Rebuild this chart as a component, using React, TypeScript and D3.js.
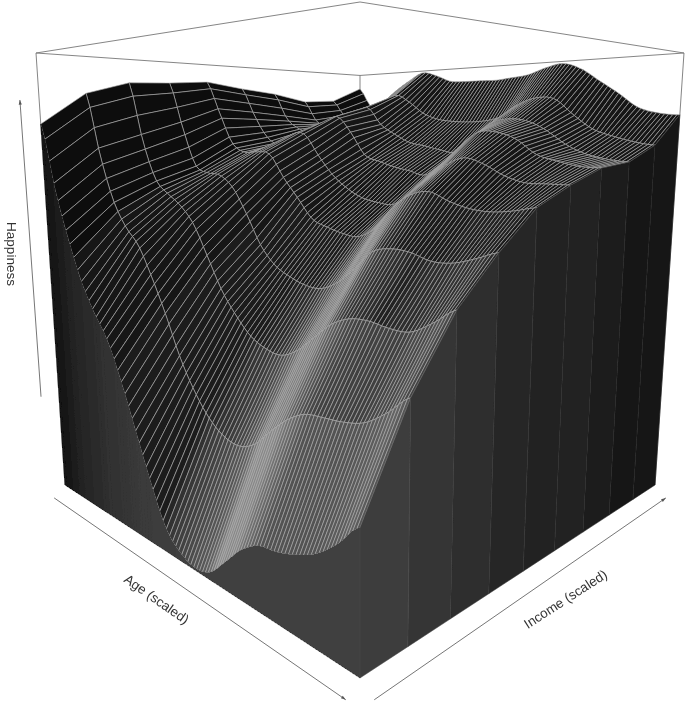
import React from "react";
import * as d3 from "d3";

const ageKnots = [0, .05, .1, .15, .2, .25, .3, .35, .4, .45, .5, .55, .6, .65, .7, .75, .8, .85, .9, .95, 1];
const income0 = [.848, .704, .597, .51, .45, .40, .32, .225, .13, .05, .016, .004, .015, .055, .098, .125, .133, .147, .168, .203, .249];
const income1 = [.918, .78, .68, .623, .587, .523, .448, .363, .30, .254, .228, .221, .238, .277, .313, .336, .342, .347, .359, .388, .425];
const income2 = [.946, .811, .722, .691, .667, .629, .562, .493, .444, .407, .389, .384, .403, .438, .473, .492, .496, .491, .493, .517, .547];
const income3 = [.95, .843, .753, .735, .731, .704, .646, .579, .539, .52, .508, .507, .526, .56, .60, .611, .609, .598, .60, .613, .629];
const income4 = [.957, .88, .805, .782, .783, .778, .725, .68, .635, .62, .61, .607, .629, .675, .705, .714, .698, .687, .684, .689, .698];
const income5 = [.944, .875, .82, .80, .825, .825, .775, .73, .70, .68, .672, .67, .695, .73, .762, .778, .766, .745, .733, .733, .733];
const income6 = [.934, .868, .84, .83, .85, .87, .83, .775, .76, .748, .74, .732, .76, .80, .83, .83, .815, .785, .772, .763, .761];
const income7 = [.916, .86, .85, .85, .875, .895, .85, .825, .805, .797, .788, .783, .815, .85, .86, .855, .835, .805, .785, .775, .77];
const income8 = [.921, .875, .865, .875, .90, .93, .91, .88, .864, .858, .856, .858, .868, .896, .91, .906, .87, .838, .822, .81, .803];
const income9 = [.96, .905, .92, .95, .975, .995, .985, .968, .965, .965, .964, .968, .973, .987, .995, .98, .95, .92, .887, .873, .868];
const incomeLines = [income0, income1, income2, income3, income4, income5, income6, income7, income8, income9];

const axisLabels = ["Happiness", "Age (scaled)", "Income (scaled)"];

// Camera fitted to the box corners.
const cam = { cx: 360, a: 295, y0: 485, b: -47.15, g: -436.74, d: 0.3542, e: 0.0895 };
function project(age: number, inc: number, z: number): [number, number] {
  const h = -1 + age + inc, c = age - inc, w = 1 - cam.d * c - cam.e * z;
  return [cam.cx + cam.a * h / w, (cam.y0 + cam.b * c + cam.g * z) / w];
}

// Smooth curve through the read heights (Catmull-Rom, for drawing the fine mesh).
function heightAt(line: number[], age: number): number {
  const n = ageKnots.length - 1, t = Math.min(age * n, n - 1e-9), i = Math.floor(t), u = t - i;
  const p0 = line[Math.max(i - 1, 0)], p1 = line[i], p2 = line[i + 1], p3 = line[Math.min(i + 2, n)];
  return 0.5 * (2 * p1 + (p2 - p0) * u + (2 * p0 - 5 * p1 + 4 * p2 - p3) * u * u + (3 * p1 - p0 - 3 * p2 + p3) * u * u * u);
}

// The age rows of the mesh are wider at the old end and tighter towards the front.
const rowStep = d3.scaleLinear().domain([0, .15, .35, .6, 1]).range([.0148, .0148, .0118, .0095, .0095]);
const rowAges: number[] = [0];
while (rowAges[rowAges.length - 1] < 1 - .005) rowAges.push(rowAges[rowAges.length - 1] + rowStep(rowAges[rowAges.length - 1]));
rowAges[rowAges.length - 1] = 1;
const rowCount = rowAges.length - 1;

const incScale = d3.scaleLinear().domain([0, incomeLines.length - 1]).range([0, 1]);
const zGrid = rowAges.map((g) => incomeLines.map((l) => heightAt(l, g)));

const sideWeight = d3.scaleLinear().domain([.05, .17, .28, .39, .5, .6, 1]).range([.5, .45, .37, .3, .2, .12, .06]).clamp(true);
const frontFade = d3.scaleLinear().domain([.75, .9]).range([1, .35]).clamp(true);
const lit = d3.scaleLinear().domain([.15, .9]).range([0, 139]).clamp(true);
const rightSkirt = d3.scaleLinear().domain([0, .11, .22, .33, .44, .55, .66, .77, .89, 1]).range([63, 62, 47, 43, 38, 35, 31, 27, 24, 19]).clamp(true);
const leftSkirt = d3.scaleLinear().domain([0, .05, .12, .2, .35, .5, 1]).range([18, 28, 38, 46, 58, 63, 65]).clamp(true);
const grey = (v: number) => { const k = Math.round(Math.min(255, v)); return `rgb(${k},${k},${k})`; };

function poly(pts: [number, number][]) {
  const p = d3.path();
  pts.forEach((q, i) => (i ? p.lineTo(q[0], q[1]) : p.moveTo(q[0], q[1])));
  p.closePath();
  return p.toString();
}
function segment(a: [number, number, number], b: [number, number, number]) {
  const p = project(a[0], a[1], a[2]), q = project(b[0], b[1], b[2]);
  return { x1: p[0], y1: p[1], x2: q[0], y2: q[1] };
}
function arrow(a: [number, number, number], b: [number, number, number], key: string) {
  const p = project(a[0], a[1], a[2]), q = project(b[0], b[1], b[2]);
  const t = Math.atan2(q[1] - p[1], q[0] - p[0]), L = 5, W = 0.32;
  const l: [number, number] = [q[0] - L * Math.cos(t - W), q[1] - L * Math.sin(t - W)];
  const r: [number, number] = [q[0] - L * Math.cos(t + W), q[1] - L * Math.sin(t + W)];
  return (
    <g key={key} stroke="#666" strokeWidth={0.9} fill="none">
      <line x1={p[0]} y1={p[1]} x2={q[0]} y2={q[1]} />
      <path d={poly([q, l, r])} fill="#555" stroke="none" />
    </g>
  );
}

export default function App() {
  const cells: React.ReactNode[] = [];
  const di = incScale(1);
  for (let j = 0; j < rowCount; j++) {
    for (let i = incomeLines.length - 2; i >= 0; i--) {
      const a = rowAges[j], b = rowAges[j + 1], s0 = incScale(i), s1 = incScale(i + 1);
      const z00 = zGrid[j][i], z01 = zGrid[j][i + 1], z10 = zGrid[j + 1][i], z11 = zGrid[j + 1][i + 1];
      const gz = (z10 + z11 - z00 - z01) / 2 / (b - a), gs = (z01 + z11 - z00 - z10) / 2 / di;
      const sm = (s0 + s1) / 2, am = (a + b) / 2;
      const gzLit = gz > 0 ? gz * Math.min(1, gz / .9) * frontFade(am) : .4 * gz;
      const v = (gzLit + sideWeight(sm) * gs) / Math.sqrt(1 + gz * gz + gs * gs);
      const base = 12 + 16 * Math.min(1, am * 3) * (1 - .4 * sm);
      cells.push(
        <path key={`c${j}-${i}`}
          d={poly([project(a, s0, z00), project(a, s1, z01), project(b, s1, z11), project(b, s0, z10)])}
          fill={grey(base + lit(v))} stroke="#aaaaaa" strokeWidth={0.62} strokeLinejoin="round" />
      );
    }
  }
  const left: React.ReactNode[] = [];
  for (let j = 0; j < rowCount; j++) {
    const a = rowAges[j], b = rowAges[j + 1], col = grey(leftSkirt((a + b) / 2));
    left.push(<path key={`l${j}`} d={poly([project(a, 0, zGrid[j][0]), project(b, 0, zGrid[j + 1][0]), project(b, 0, 0), project(a, 0, 0)])} fill={col} stroke={col} strokeWidth={0.6} strokeLinejoin="round" shapeRendering="crispEdges" />);
  }
  const right: React.ReactNode[] = [];
  for (let i = 0; i < incomeLines.length - 1; i++) {
    const s0 = incScale(i), s1 = incScale(i + 1), col = grey(rightSkirt((s0 + s1) / 2));
    right.push(<path key={`r${i}`} d={poly([project(1, s0, zGrid[rowCount][i]), project(1, s1, zGrid[rowCount][i + 1]), project(1, s1, 0), project(1, s0, 0)])} fill={col} stroke={grey(rightSkirt((s0 + s1) / 2) + 10)} strokeWidth={0.5} />);
  }
  const boxEdges: [[number, number, number], [number, number, number]][] = [
    [[0, 0, 1], [1, 0, 1]], [[1, 0, 1], [1, 1, 1]], [[1, 1, 1], [0, 1, 1]], [[0, 1, 1], [0, 0, 1]],
    [[0, 0, 1], [0, 0, 0]], [[1, 1, 1], [1, 1, 0]], [[0, 1, 1], [0, 1, 0]],
  ];
  const font = "'Liberation Sans', Arial, sans-serif";
  return (
    <svg width={685} height={706} viewBox="0 0 685 706" style={{ position: "absolute", left: 0, top: 0, background: "#fff" }}>
      <defs>
        <filter id="soft" x="0" y="0" width="685" height="706" filterUnits="userSpaceOnUse">
          <feGaussianBlur stdDeviation="0.35" />
        </filter>
      </defs>
      <g filter="url(#soft)">
        <rect width={685} height={706} fill="#fff" />
        {boxEdges.map((e, i) => <line key={i} {...segment(e[0], e[1])} stroke="#777" strokeWidth={0.9} />)}
        {cells}
        {left}
        {right}
        {arrow([.05, -.05, 0], [1.02, -.05, 0], "age")}
        {arrow([1.05, -.02, 0], [1.05, .95, 0], "inc")}
        {arrow([-.03, -.03, .22], [-.03, -.03, .9], "hap")}
        <g fontFamily={font} fontSize={13.5} fill="#333" textAnchor="middle">
          <text transform="translate(7,254) rotate(90)">{axisLabels[0]}</text>
          <text transform="translate(154,603) rotate(35)">{axisLabels[1]}</text>
          <text transform="translate(568,603) rotate(-33)">{axisLabels[2]}</text>
        </g>
      </g>
    </svg>
  );
}
